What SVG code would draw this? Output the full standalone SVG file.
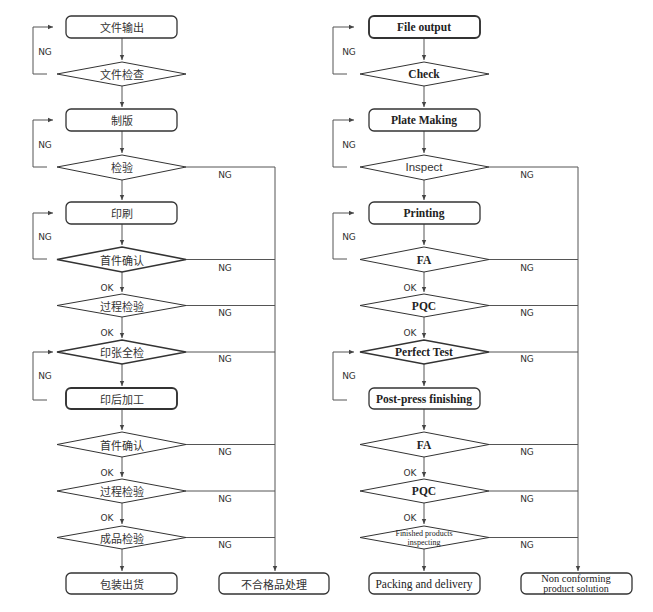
<svg xmlns="http://www.w3.org/2000/svg" width="653" height="612" viewBox="0 0 653 612">
<style>
.box{fill:#fff;stroke:#333;stroke-width:1.3}
.bold{stroke-width:1.9}
.dia{fill:#fff;stroke:#333;stroke-width:1}
.dia.thick{stroke-width:1.6}
.ln{fill:none;stroke:#555;stroke-width:1}
.cn{font-family:"Noto Sans CJK SC","Noto Sans",sans-serif;font-size:11px;fill:#333;text-anchor:middle;dominant-baseline:central}
.en{font-family:"Liberation Serif",serif;font-size:11.5px;font-weight:bold;fill:#222;text-anchor:middle;dominant-baseline:central}
.enr{font-family:"Liberation Serif",serif;font-size:11.5px;fill:#222;text-anchor:middle;dominant-baseline:central}
.lb{font-family:"DejaVu Sans",sans-serif;font-size:9px;fill:#333;text-anchor:middle;dominant-baseline:central}
</style>
<defs>
<marker id="ar" markerWidth="6" markerHeight="6" refX="5" refY="3" orient="auto" markerUnits="userSpaceOnUse">
<path d="M0,0.8 L5,3 L0,5.2 Z" fill="#444"/>
</marker>
</defs>
<rect width="653" height="612" fill="#fff"/>

<g id="connectors">
<path class="ln" d="M122,38 V60" marker-end="url(#ar)"/>
<path class="ln" d="M122,86 V107" marker-end="url(#ar)"/>
<path class="ln" d="M122,131 V153" marker-end="url(#ar)"/>
<path class="ln" d="M122,180 V200" marker-end="url(#ar)"/>
<path class="ln" d="M122,224 V245" marker-end="url(#ar)"/>
<path class="ln" d="M122,272 V292" marker-end="url(#ar)"/>
<path class="ln" d="M122,317 V338" marker-end="url(#ar)"/>
<path class="ln" d="M122,364 V386" marker-end="url(#ar)"/>
<path class="ln" d="M122,409 V430" marker-end="url(#ar)"/>
<path class="ln" d="M122,457 V477" marker-end="url(#ar)"/>
<path class="ln" d="M122,503 V524" marker-end="url(#ar)"/>
<path class="ln" d="M122,549 V571" marker-end="url(#ar)"/>
<path class="ln" d="M47,74 H33 V27 H53" marker-end="url(#ar)"/>
<path class="ln" d="M47,167 H33 V120 H53" marker-end="url(#ar)"/>
<path class="ln" d="M47,259 H33 V213 H53" marker-end="url(#ar)"/>
<path class="ln" d="M47,400 H33 V352 H53" marker-end="url(#ar)"/>
<path class="ln" d="M186,167 H275 V571" marker-end="url(#ar)"/>
<path class="ln" d="M186,259.5 H275"/>
<path class="ln" d="M186,305.5 H275"/>
<path class="ln" d="M186,352 H275"/>
<path class="ln" d="M186,444.5 H275"/>
<path class="ln" d="M186,491 H275"/>
<path class="ln" d="M186,537.5 H275"/>

<path class="ln" d="M424,38 V60" marker-end="url(#ar)"/>
<path class="ln" d="M424,86 V107" marker-end="url(#ar)"/>
<path class="ln" d="M424,131 V153" marker-end="url(#ar)"/>
<path class="ln" d="M424,180 V200" marker-end="url(#ar)"/>
<path class="ln" d="M424,224 V245" marker-end="url(#ar)"/>
<path class="ln" d="M424,272 V292" marker-end="url(#ar)"/>
<path class="ln" d="M424,317 V338" marker-end="url(#ar)"/>
<path class="ln" d="M424,364 V386" marker-end="url(#ar)"/>
<path class="ln" d="M424,409 V430" marker-end="url(#ar)"/>
<path class="ln" d="M424,457 V477" marker-end="url(#ar)"/>
<path class="ln" d="M424,503 V524" marker-end="url(#ar)"/>
<path class="ln" d="M424,549 V571" marker-end="url(#ar)"/>
<path class="ln" d="M347,74 H333 V27 H354" marker-end="url(#ar)"/>
<path class="ln" d="M347,167 H333 V120 H354" marker-end="url(#ar)"/>
<path class="ln" d="M347,259 H333 V213 H354" marker-end="url(#ar)"/>
<path class="ln" d="M347,400 H333 V352 H354" marker-end="url(#ar)"/>
<path class="ln" d="M489,167 H578 V571" marker-end="url(#ar)"/>
<path class="ln" d="M489,259.5 H578"/>
<path class="ln" d="M489,305.5 H578"/>
<path class="ln" d="M489,352 H578"/>
<path class="ln" d="M489,444.5 H578"/>
<path class="ln" d="M489,491 H578"/>
<path class="ln" d="M489,537.5 H578"/>

<g>
<text class="lb" x="45" y="52">NG</text>
<text class="lb" x="45" y="145">NG</text>
<text class="lb" x="45" y="237">NG</text>
<text class="lb" x="45" y="376">NG</text>
<text class="lb" x="225" y="175">NG</text>
<text class="lb" x="225" y="268">NG</text>
<text class="lb" x="225" y="313">NG</text>
<text class="lb" x="225" y="359">NG</text>
<text class="lb" x="225" y="452">NG</text>
<text class="lb" x="225" y="499">NG</text>
<text class="lb" x="225" y="545">NG</text>
<text class="lb" x="107" y="288">OK</text>
<text class="lb" x="107" y="333">OK</text>
<text class="lb" x="107" y="473">OK</text>
<text class="lb" x="107" y="518">OK</text>
<text class="lb" x="349" y="52">NG</text>
<text class="lb" x="349" y="145">NG</text>
<text class="lb" x="349" y="237">NG</text>
<text class="lb" x="349" y="376">NG</text>
<text class="lb" x="527" y="175">NG</text>
<text class="lb" x="527" y="268">NG</text>
<text class="lb" x="527" y="313">NG</text>
<text class="lb" x="527" y="359">NG</text>
<text class="lb" x="527" y="452">NG</text>
<text class="lb" x="527" y="499">NG</text>
<text class="lb" x="527" y="545">NG</text>
<text class="lb" x="410" y="288">OK</text>
<text class="lb" x="410" y="333">OK</text>
<text class="lb" x="410" y="473">OK</text>
<text class="lb" x="410" y="518">OK</text>
</g>
</g>

<g id="l-file-output"><rect class="box" x="66" y="16" width="111" height="22" rx="5"/><text class="cn" x="122" y="27">文件输出</text></g>
<g id="l-file-check"><polygon class="dia" points="57,74 122,62 186,74 122,86"/><text class="cn" x="122" y="74">文件检查</text></g>
<g id="l-plate"><rect class="box" x="66" y="109" width="111" height="22" rx="5"/><text class="cn" x="122" y="120">制版</text></g>
<g id="l-inspect"><polygon class="dia" points="57,167 122,155 186,167 122,180"/><text class="cn" x="122" y="167">检验</text></g>
<g id="l-print"><rect class="box" x="66" y="202" width="111" height="22" rx="5"/><text class="cn" x="122" y="213">印刷</text></g>
<g id="l-fa1"><polygon class="dia thick" points="57,259.5 122,247 186,259.5 122,272"/><text class="cn" x="122" y="259.5">首件确认</text></g>
<g id="l-pqc1"><polygon class="dia" points="57,305.5 122,294 186,305.5 122,317"/><text class="cn" x="122" y="305.5">过程检验</text></g>
<g id="l-full"><polygon class="dia thick" points="57,352 122,340 186,352 122,364"/><text class="cn" x="122" y="352">印张全检</text></g>
<g id="l-post"><rect class="box bold" x="66" y="388" width="111" height="21" rx="5"/><text class="cn" x="122" y="398.5">印后加工</text></g>
<g id="l-fa2"><polygon class="dia" points="57,444.5 122,432 186,444.5 122,457"/><text class="cn" x="122" y="444.5">首件确认</text></g>
<g id="l-pqc2"><polygon class="dia" points="57,491 122,479 186,491 122,503"/><text class="cn" x="122" y="491">过程检验</text></g>
<g id="l-final"><polygon class="dia" points="57,537.5 122,526 186,537.5 122,549"/><text class="cn" x="122" y="537.5">成品检验</text></g>
<g id="l-pack"><rect class="box" x="66" y="573" width="111" height="21" rx="5"/><text class="cn" x="122" y="583.5">包装出货</text></g>
<g id="l-reject"><rect class="box" x="219" y="573" width="110" height="21" rx="5"/><text class="cn" x="274" y="583.5">不合格品处理</text></g>

<g id="r-file-output"><rect class="box bold" x="369" y="16" width="111" height="22" rx="5"/><text class="en" x="424" y="27">File output</text></g>
<g id="r-check"><polygon class="dia" points="360,74 424,62 489,74 424,86"/><text class="en" x="424" y="74">Check</text></g>
<g id="r-plate"><rect class="box" x="369" y="109" width="111" height="22" rx="5"/><text class="en" x="424" y="120">Plate Making</text></g>
<g id="r-inspect"><polygon class="dia" points="360,167 424,155 489,167 424,180"/><text class="cn" x="424" y="167" style="font-family:'Liberation Sans',sans-serif;font-size:11.5px">Inspect</text></g>
<g id="r-print"><rect class="box" x="369" y="202" width="111" height="22" rx="5"/><text class="en" x="424" y="213">Printing</text></g>
<g id="r-fa1"><polygon class="dia" points="360,259.5 424,247 489,259.5 424,272"/><text class="en" x="424" y="259.5">FA</text></g>
<g id="r-pqc1"><polygon class="dia" points="360,305.5 424,294 489,305.5 424,317"/><text class="en" x="424" y="305.5">PQC</text></g>
<g id="r-perfect"><polygon class="dia thick" points="360,352 424,340 489,352 424,364"/><text class="en" x="424" y="352">Perfect Test</text></g>
<g id="r-post"><rect class="box" x="369" y="388" width="111" height="21" rx="5"/><text class="en" x="424" y="398.5">Post-press finishing</text></g>
<g id="r-fa2"><polygon class="dia" points="360,444.5 424,432 489,444.5 424,457"/><text class="en" x="424" y="444.5">FA</text></g>
<g id="r-pqc2"><polygon class="dia" points="360,491 424,479 489,491 424,503"/><text class="en" x="424" y="491">PQC</text></g>
<g id="r-final"><polygon class="dia" points="360,537.5 424,526 489,537.5 424,549"/><text class="enr" x="424" y="533.5" style="font-size:8px">Finished products</text><text class="enr" x="424" y="542" style="font-size:8px">inspecting</text></g>
<g id="r-pack"><rect class="box" x="369" y="573" width="111" height="21" rx="5"/><text class="enr" x="424" y="583.5">Packing and delivery</text></g>
<g id="r-reject"><rect class="box" x="521" y="573" width="111" height="21" rx="5"/><text class="enr" x="576" y="578.5" style="font-size:10.5px">Non conforming</text><text class="enr" x="576" y="588.5" style="font-size:10px">product solution</text></g>
</svg>
